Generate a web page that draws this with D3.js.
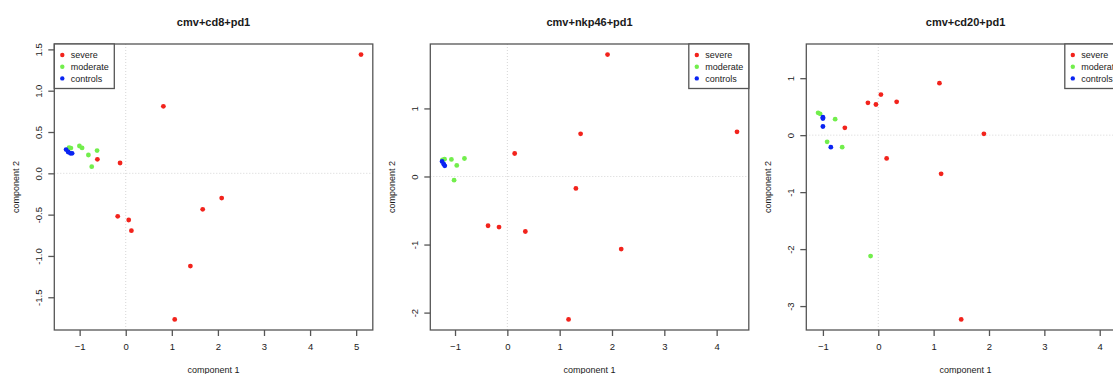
<!DOCTYPE html>
<html>
<head>
<meta charset="utf-8">
<script src="https://cdn.jsdelivr.net/npm/d3@7"></script>
<style>
  body { margin: 0; background: #fff; }
  svg { display: block; font-family: "Liberation Sans", Arial, sans-serif; }
</style>
</head>
<body>
<div class="svg-content"></div>
<script>
// panel titles and tick values
const titles = ["cmv+cd8+pd1", "cmv+nkp46+pd1", "cmv+cd20+pd1"];
const xTicks = [[-1, 0, 1, 2, 3, 4, 5], [-1, 0, 1, 2, 3, 4], [-1, 0, 1, 2, 3, 4]];
const yTicks = [[-1.5, -1, -0.5, 0, 0.5, 1, 1.5], [-2, -1, 0, 1], [-3, -2, -1, 0, 1]];
const legendSide = ["left", "right", "right"];
const groups = ["severe", "moderate", "controls"];

// component 1 / component 2 per group
const cd8Severe = [[5.105, 1.437], [0.817, 0.811], [-0.615, 0.170], [-0.123, 0.125], [-0.174, -0.521],
  [0.065, -0.565], [0.123, -0.694], [1.670, -0.436], [2.082, -0.299], [1.403, -1.122], [1.063, -1.768]];
const cd8Moderate = [[-1.23, 0.31], [-1.19, 0.305], [-1.005, 0.331], [-0.947, 0.307], [-0.81, 0.222],
  [-0.622, 0.275], [-0.738, 0.081]];
const cd8Controls = [[-1.294, 0.287], [-1.25, 0.258], [-1.20, 0.242], [-1.164, 0.242]];

const nkpSevere = [[1.915, 1.791], [1.40, 0.627], [4.389, 0.656], [0.14, 0.338], [1.31, -0.176],
  [-0.369, -0.724], [-0.159, -0.744], [0.344, -0.808], [2.176, -1.067], [1.17, -2.10]];
const nkpModerate = [[-1.24, 0.245], [-1.20, 0.255], [-1.069, 0.25], [-0.82, 0.264], [-0.967, 0.162],
  [-1.018, -0.054]];
const nkpControls = [[-1.247, 0.22], [-1.215, 0.181], [-1.196, 0.157]];

const cd20Severe = [[1.105, 0.912], [0.048, 0.713], [-0.187, 0.567], [-0.042, 0.538], [0.332, 0.585],
  [-0.604, 0.129], [1.908, 0.023], [0.151, -0.409], [1.135, -0.678], [1.498, -3.234], [4.24, 1.414]];
const cd20Moderate = [[-1.087, 0.392], [-1.051, 0.374], [-0.779, 0.281], [-0.924, -0.117],
  [-0.652, -0.211], [-0.139, -2.123]];
const cd20Controls = [[-1.0, 0.316], [-1.0, 0.292], [-1.0, 0.152], [-0.857, -0.211]];

const panelData = [
  [cd8Severe, cd8Moderate, cd8Controls],
  [nkpSevere, nkpModerate, nkpControls],
  [cd20Severe, cd20Moderate, cd20Controls]
];

const colors = ["#f2231c", "#72ee4c", "#0a24f2"];
const svgWidth = 1113;
const svgHeight = 374;
const panelWidth = 376;
const boxLeft = 54.3;
const boxWidth = 318.5;
const boxTop = 44;
const boxBottom = 330;
const ink = "#1a1a1a";
const frame = "#555";

let svg = d3.select(".svg-content")
            .append("svg")
            .attr("width", svgWidth)
            .attr("height", svgHeight);

// R style axis range: data range stretched by 4% on each side
function rRange(values) {
  const lo = d3.min(values), hi = d3.max(values);
  const pad = (hi - lo) * 0.04;
  return [lo - pad, hi + pad];
}

panelData.forEach((series, i) => {
  const left = i * panelWidth + boxLeft;
  const right = left + boxWidth;
  const all = series.flat();

  const xScale = d3.scaleLinear()
                   .domain(rRange(all.map(d => d[0])))
                   .range([left, right]);
  const yScale = d3.scaleLinear()
                   .domain(rRange(all.map(d => d[1])))
                   .range([boxBottom, boxTop]);

  let g = svg.append("g");

  // dotted zero lines
  g.append("line")
   .attr("x1", xScale(0)).attr("x2", xScale(0))
   .attr("y1", boxTop).attr("y2", boxBottom)
   .attr("stroke", "#d6d6d6").attr("stroke-dasharray", "1,2");
  g.append("line")
   .attr("x1", left).attr("x2", right)
   .attr("y1", yScale(0)).attr("y2", yScale(0))
   .attr("stroke", "#d6d6d6").attr("stroke-dasharray", "1,2");

  // points
  series.forEach((pts, k) => {
    g.selectAll(".pt" + k)
     .data(pts)
     .enter()
     .append("circle")
     .attr("cx", d => xScale(d[0]))
     .attr("cy", d => yScale(d[1]))
     .attr("r", 2.4)
     .attr("fill", colors[k]);
  });

  // box
  g.append("rect")
   .attr("x", left).attr("y", boxTop)
   .attr("width", boxWidth).attr("height", boxBottom - boxTop)
   .attr("fill", "none").attr("stroke", frame).attr("stroke-width", 1.3);

  const xAxis = d3.axisBottom(xScale)
                  .tickValues(xTicks[i])
                  .tickSize(6)
                  .tickPadding(7)
                  .tickFormat(d3.format("d"));
  let xg = g.append("g")
            .attr("transform", "translate(0," + boxBottom + ")")
            .call(xAxis);
  xg.select(".domain").remove();
  xg.selectAll("line").attr("stroke", frame).attr("stroke-width", 1.3);
  xg.selectAll("text").attr("fill", ink).attr("font-size", 9.5).attr("font-family", null);

  const yFormat = i === 0 ? d3.format(".1f") : d3.format("d");
  const yAxis = d3.axisLeft(yScale)
                  .tickValues(yTicks[i])
                  .tickSize(6)
                  .tickFormat(yFormat);
  let yg = g.append("g")
            .attr("transform", "translate(" + left + ",0)")
            .call(yAxis);
  yg.select(".domain").remove();
  yg.selectAll("line").attr("stroke", frame).attr("stroke-width", 1.3);
  yg.selectAll("text")
    .attr("x", 0).attr("dy", 0)
    .attr("text-anchor", "middle")
    .attr("transform", "translate(-12.8,0) rotate(-90)")
    .attr("fill", ink).attr("font-size", 9.5).attr("font-family", null)
    .text(d => yFormat(d).replace("−", "-"));

  // titles
  g.append("text")
   .attr("x", (left + right) / 2).attr("y", 26)
   .attr("text-anchor", "middle")
   .attr("font-size", 11).attr("font-weight", "bold").attr("fill", ink)
   .text(titles[i]);
  g.append("text")
   .attr("x", (left + right) / 2).attr("y", 373)
   .attr("text-anchor", "middle")
   .attr("font-size", 9).attr("fill", ink)
   .text("component 1");
  g.append("text")
   .attr("transform", "translate(" + (i * panelWidth + 19) + "," + ((boxTop + boxBottom) / 2) + ") rotate(-90)")
   .attr("text-anchor", "middle")
   .attr("font-size", 9).attr("fill", ink)
   .text("component 2");

  // legend
  const legW = 60;
  const legX = legendSide[i] === "left" ? left : right - legW;
  let leg = g.append("g");
  leg.append("rect")
     .attr("x", legX).attr("y", boxTop)
     .attr("width", legW).attr("height", 44.5)
     .attr("fill", "#fff").attr("stroke", frame).attr("stroke-width", 1.3);
  groups.forEach((name, k) => {
    const cy = boxTop + 11 + k * 11.7;
    leg.append("circle")
       .attr("cx", legX + 8).attr("cy", cy).attr("r", 2.2)
       .attr("fill", colors[k]);
    leg.append("text")
       .attr("x", legX + 16.5).attr("y", cy).attr("dy", "0.35em")
       .attr("font-size", 9).attr("fill", ink)
       .text(name);
  });
});
</script>
</body>
</html>
